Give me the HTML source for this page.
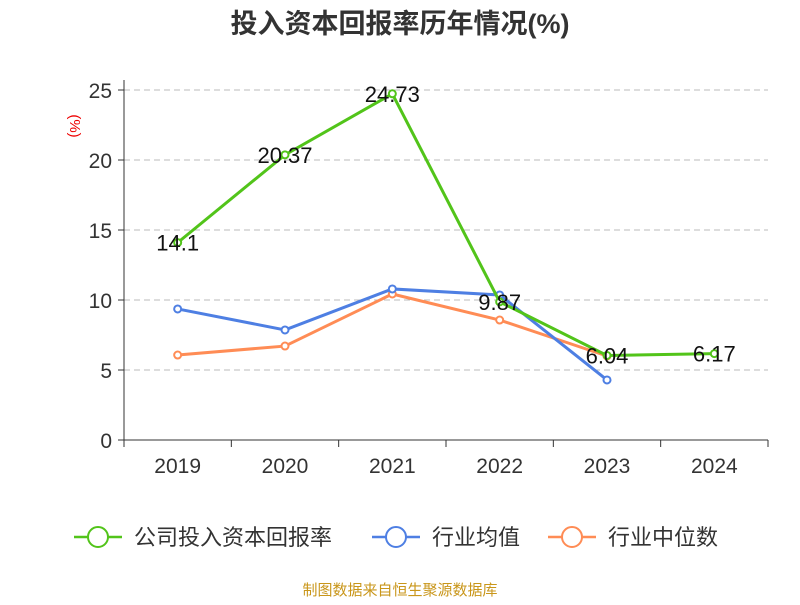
<!DOCTYPE html>
<html><head><meta charset="utf-8"><style>
body{margin:0;background:#fff;}
svg text{font-family:"Liberation Sans","Noto Sans CJK SC",sans-serif;}
</style></head><body>
<svg id="c" width="800" height="600" xmlns="http://www.w3.org/2000/svg">
<text x="400" y="33" text-anchor="middle" font-size="27" font-weight="bold" fill="#333">投入资本回报率历年情况(%)</text>
<text x="70" y="126" text-anchor="middle" font-size="15" fill="#e00" transform="rotate(90 70 126)">(%)</text>
<g id="grid"></g><g id="axes"></g><g id="series"></g>
<g>
<g><line x1="74" y1="537" x2="122" y2="537" stroke="#52c41a" stroke-width="2.5"/><circle cx="98" cy="537" r="10" fill="#fff" stroke="#52c41a" stroke-width="2"/><text x="134" y="545" font-size="22" fill="#333">公司投入资本回报率</text></g>
<g><line x1="372" y1="537" x2="420" y2="537" stroke="#4e7fe3" stroke-width="2.5"/><circle cx="396" cy="537" r="10" fill="#fff" stroke="#4e7fe3" stroke-width="2"/><text x="432" y="545" font-size="22" fill="#333">行业均值</text></g>
<g><line x1="548" y1="537" x2="596" y2="537" stroke="#ff8c55" stroke-width="2.5"/><circle cx="572" cy="537" r="10" fill="#fff" stroke="#ff8c55" stroke-width="2"/><text x="608" y="545" font-size="22" fill="#333">行业中位数</text></g>
</g>
<text x="400" y="595" text-anchor="middle" font-size="15" fill="#c9961a">制图数据来自恒生聚源数据库</text>
</svg>
<script>
const categories=["2019","2020","2021","2022","2023","2024"];
const companyValues=[14.1,20.37,24.73,9.87,6.04,6.17];
const avgValues=[9.36,7.86,10.79,10.36,4.29];
const medianValues=[6.07,6.71,10.43,8.57,6.0];
const yTicks=[0,5,10,15,20,25];
const NS="http://www.w3.org/2000/svg";
const x0=124,x1=768,y0=440,yTop=90,yMax=25;
const bw=(x1-x0)/categories.length;
const xs=i=>x0+bw*(i+0.5);
const ys=v=>y0-(v/yMax)*(y0-yTop);
function mk(tag,attrs,parent){const e=document.createElementNS(NS,tag);for(const k in attrs)e.setAttribute(k,attrs[k]);parent.appendChild(e);return e;}
const grid=document.getElementById('grid'),axes=document.getElementById('axes'),series=document.getElementById('series');
yTicks.forEach(t=>{
  if(t>0){const g=mk('line',{x1:x0,x2:x1,y1:ys(t),y2:ys(t),stroke:'#bbb','stroke-dasharray':'6,4'},grid);
  
  }
  const tk=mk('line',{x1:x0-6,x2:x0,y1:ys(t),y2:ys(t),stroke:'#333'},axes);
  
  
  const l=mk('text',{x:x0-12,y:ys(t)+8,'text-anchor':'end','font-size':21,fill:'#333'},axes);l.textContent=t;
  
  
});
const ya=mk('line',{x1:x0,x2:x0,y1:yTop-10,y2:y0,stroke:'#333'},axes);


const xa=mk('line',{x1:x0,x2:x1,y1:y0,y2:y0,stroke:'#333'},axes);


for(let i=0;i<=categories.length;i++){const t=mk('line',{x1:x0+bw*i,x2:x0+bw*i,y1:y0,y2:y0+7,stroke:'#333'},axes);

}
categories.forEach((c,i)=>{const l=mk('text',{x:xs(i),y:y0+33,'text-anchor':'middle','font-size':21,fill:'#333'},axes);l.textContent=c;

});
function draw(vals,color,name,labels){
  const pts=vals.map((v,i)=>xs(i)+','+ys(v)).join(' ');
  const pl=mk('polyline',{points:pts,fill:'none',stroke:color,'stroke-width':3},series);
  
  
  vals.forEach((v,i)=>{const c=mk('circle',{cx:xs(i),cy:ys(v),r:3.5,fill:'#fff',stroke:color,'stroke-width':2},series);
  
  });
  if(labels)vals.forEach((v,i)=>{const t=mk('text',{x:xs(i),y:ys(v)+8,'text-anchor':'middle','font-size':22,fill:'#111'},series);t.textContent=v;
  
  });
}
draw(medianValues,'#ff8c55','industry-median',false);
draw(avgValues,'#4e7fe3','industry-avg',false);
draw(companyValues,'#52c41a','company',true);
</script>
</body></html>
